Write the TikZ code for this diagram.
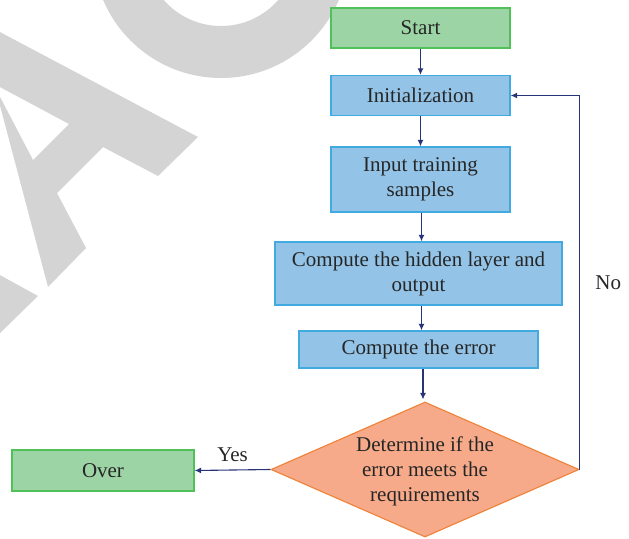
\documentclass[tikz,border=0pt]{standalone}
\usepackage{fontspec}
\setmainfont{Liberation Serif}
\usetikzlibrary{shapes.geometric,arrows.meta,calc}

\begin{document}
\begin{tikzpicture}[x=1pt,y=-1pt,>={Latex[length=6.5pt,width=6pt]},
    font=\fontsize{21}{25}\selectfont,
    box/.style={draw,line width=1.3pt,align=center,inner sep=0pt,text=black!85},
    flow/.style={->,line width=1.1pt,draw=arrowc}]
            \definecolor{gfill}{RGB}{157,212,165}
            \definecolor{gline}{RGB}{80,192,88}
            \definecolor{bfill}{RGB}{147,196,231}
            \definecolor{bline}{RGB}{64,170,225}
            \definecolor{ofill}{RGB}{246,170,138}
            \definecolor{oline}{RGB}{239,130,54}
            \definecolor{arrowc}{RGB}{40,52,120}
            \definecolor{wmgray}{RGB}{212,212,212}
            \useasboundingbox (0,0) rectangle (629,538);
            % watermark pieces in the background
            \begin{scope}
                \clip (0,0) rectangle (629,538);
                \fill[wmgray] (-2,31) -- (198,137) -- (158,176) -- (103,147) -- (57,193) -- (86,248) -- (48,287)
                    -- (-2,98) -- (-2,93) -- (33,160) -- (69,124) -- (-2,86) -- cycle;
                \fill[wmgray,even odd rule] (221,-50) circle (128) (221,-50) circle (76);
                \fill[wmgray] (-2,274) -- (38,296) -- (-2,335) -- cycle;
            \end{scope}
            \node[box,fill=gfill,draw=gline,minimum width=179pt,minimum height=40pt] (start) at (420.5,28) {Start};
            \node[box,fill=bfill,draw=bline,minimum width=179pt,minimum height=40pt] (init) at (420.5,95.5) {Initialization};
            \node[box,fill=bfill,draw=bline,minimum width=179pt,minimum height=65pt] (input) at (420.5,179.5) {Input training\\samples};
            \node[box,fill=bfill,draw=bline,minimum width=287pt,minimum height=63pt] (hidden) at (418.5,273.5) {Compute the hidden layer and\\output};
            \node[box,fill=bfill,draw=bline,minimum width=239pt,minimum height=37pt] (error) at (418.5,349.5) {Compute the error};
            \node[box,diamond,aspect=2.28,fill=ofill,draw=oline,line width=1.1pt,minimum width=308pt,minimum height=135pt,text depth=0pt] (decide) at (425,469.5) {Determine if the\\error meets the\\requirements};
            \node[box,fill=gfill,draw=gline,minimum width=182pt,minimum height=41pt] (over) at (103,470.5) {Over};
            \draw[flow] (start) -- (init);
            \draw[flow] (init.south -| input.south) -- (input.north);
            \draw[flow] ($(input.south)+(1,0)$) -- ($(input.south |- hidden.north)+(1,0)$);
            \draw[flow] ($(hidden.south -| input.south)+(1,0)$) -- ($(input.south |- error.north)+(1,0)$);
            \draw[flow] ($(error.south -| decide.north)+(-2,0)$) -- ($(decide.north)+(-2,-2)$);
            \draw[flow] (decide.west) -- node[above=4pt,text=black!85] {Yes} (over.east);
            \draw[flow] (decide.east) |- node[pos=0.25,right=12pt,text=black!85] {No} (init.east);
        \end{tikzpicture}
\end{document}
